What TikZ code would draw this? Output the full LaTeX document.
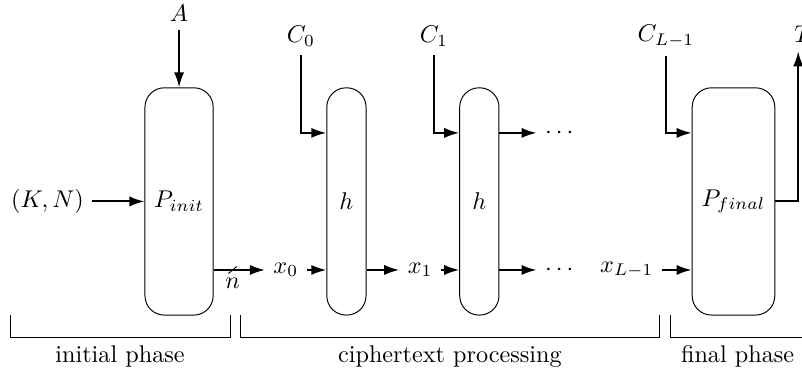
\documentclass[tikz,border=0pt]{standalone}
\usepackage{amsmath}
\usepackage{tikz}
\usetikzlibrary{arrows.meta}
\tikzstyle{arrow} = [thick,-{Latex[length=6.2pt,width=4.2pt]}]
\tikzstyle{block} = [draw,rounded corners=0.28cm,minimum height=3.3cm,inner sep=0pt]

\begin{document}
\begin{tikzpicture}
\useasboundingbox (0,0) rectangle (11.645,5.43);
% blocks
\node[block,minimum width=0.99cm] (pinit) at (2.60,2.505) {$P_{init}$};
\node[block,minimum width=0.57cm] (h0) at (5.03,2.505) {$h$};
\node[block,minimum width=0.57cm] (h1) at (6.96,2.505) {$h$};
\node[block,minimum width=1.2cm] (pfinal) at (10.65,2.505) {$P_{final}$};
% inputs
\node (a) at (2.60,5.235) {$A$};
\node (kn) at (0.69,2.505) {$(K,N)$};
\node (c0) at (4.37,4.90) {$C_0$};
\node (c1) at (6.30,4.90) {$C_1$};
\node (cl) at (9.67,4.90) {$C_{L-1}$};
\node (t) at (11.66,4.93) {$T$};
\draw[arrow] (a) -- (pinit);
\draw[arrow] (kn) -- (kn -| pinit.west);
\draw[arrow] (c0) |- (h0.west |- 0,3.5);
\draw[arrow] (c1) |- (h1.west |- 0,3.5);
\draw[arrow] (cl) |- (pfinal.west |- 0,3.5);
\draw[arrow] (pfinal) -| ([xshift=-0.07cm]t.south);
% chain
\node (x0) at (4.15,1.51) {$x_0$};
\node (x1) at (6.10,1.51) {$x_1$};
\node (udots) at (8.15,3.5) {$\cdots$};
\node (ldots) at (8.15,1.51) {$\cdots$};
\node (xl) at (9.10,1.51) {$x_{L-1}$};
\draw[arrow] (pinit.east |- x0) -- (x0) coordinate[pos=0.37] (cut);
\draw ([shift={(-0.06,-0.05)}]cut) -- ([shift={(0.06,0.05)}]cut);
\node[below] (n) at (cut) {$n$};
\draw[arrow] (x0) -- (h0.west |- x0);
\draw[arrow] (h0.east |- x1) -- (x1);
\draw[arrow] (x1) -- (h1.west |- x1);
\draw[arrow] (h1.east |- udots) -- (udots);
\draw[arrow] (h1.east |- ldots) -- (ldots);
\draw[arrow] (xl) -- (pfinal.west |- xl);
% phases
\draw (0.145,0.857) -- (0.145,0.537) -- node[below] {initial phase} (3.34,0.537) -- (3.34,0.857);
\draw (3.485,0.857) -- (3.485,0.537) -- node[below] {ciphertext processing} (9.58,0.537) -- (9.58,0.857);
\draw (9.73,0.857) -- (9.73,0.537) -- node[below] {final phase} (11.69,0.537) -- (11.69,0.857);
\end{tikzpicture}
\end{document}
